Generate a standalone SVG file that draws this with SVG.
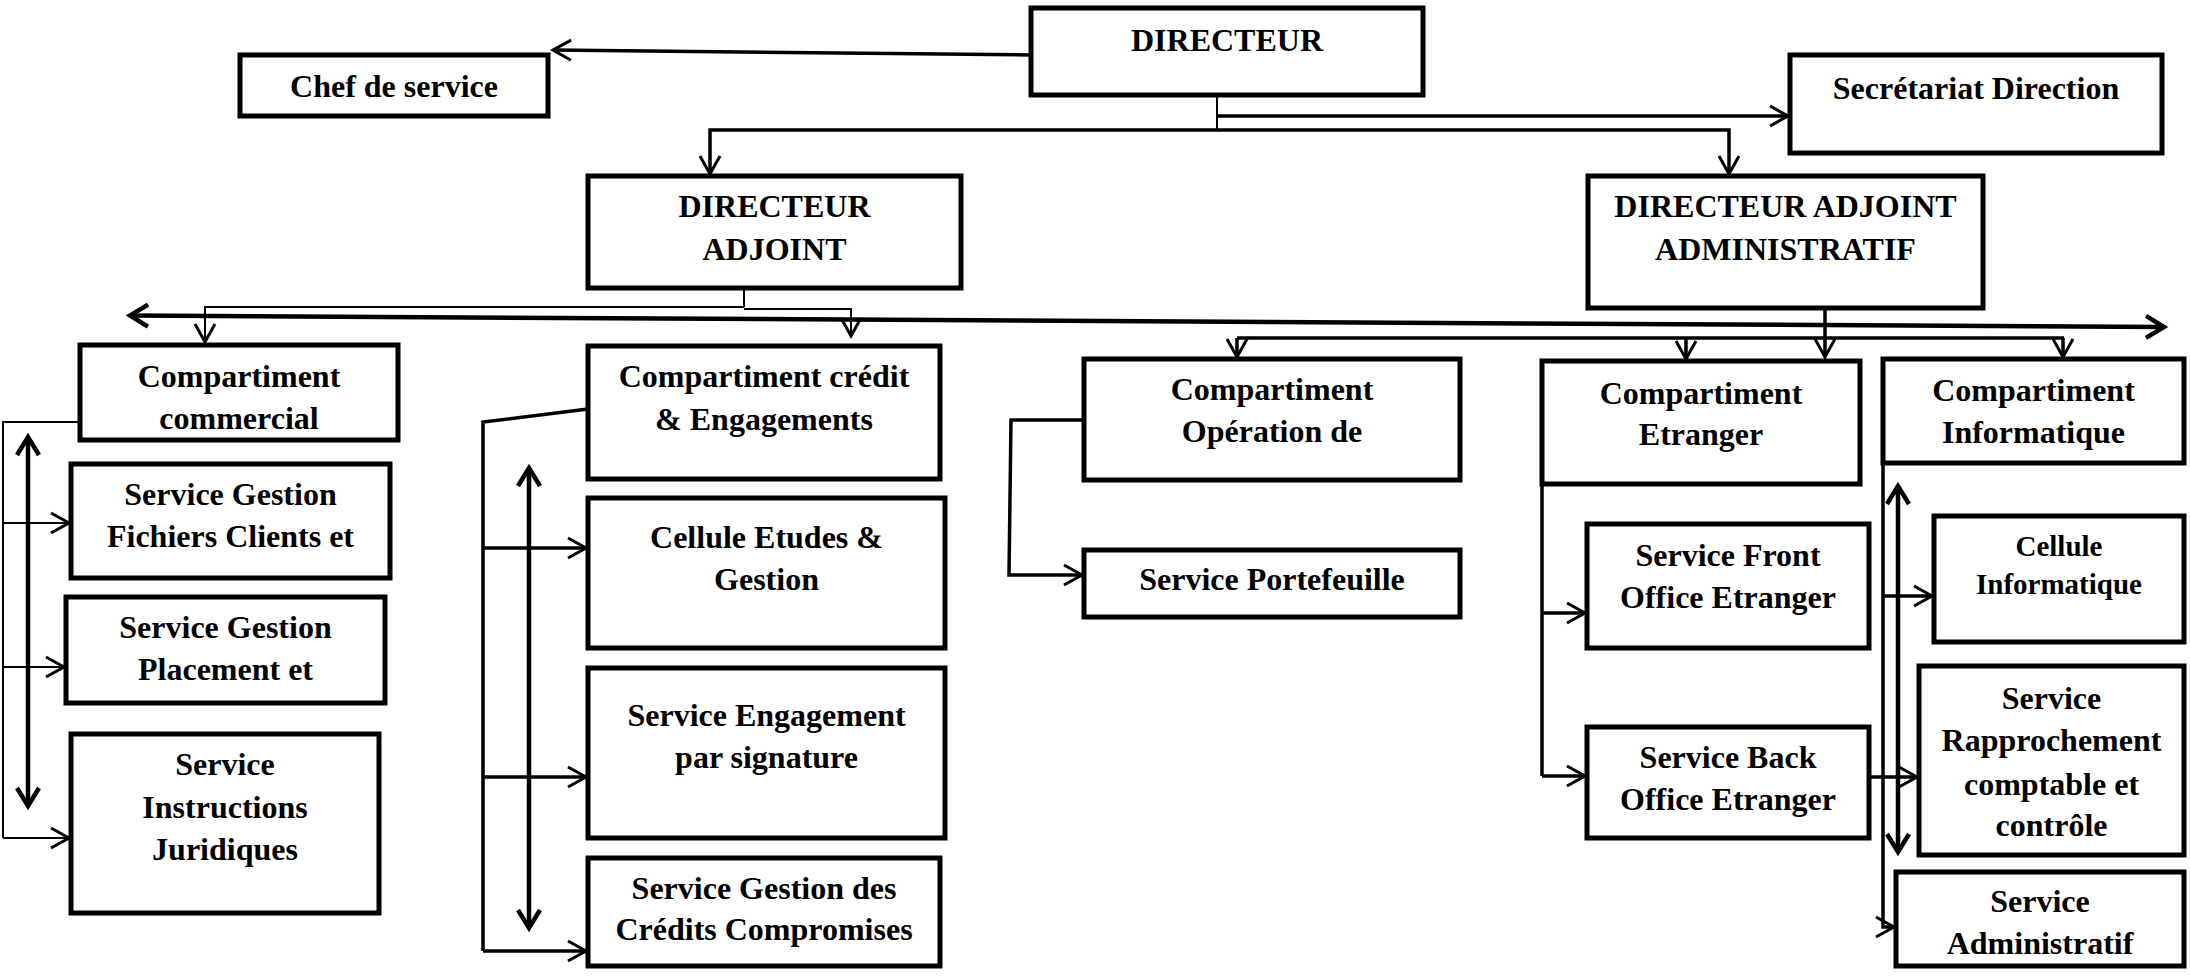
<svg xmlns="http://www.w3.org/2000/svg" width="2190" height="977" viewBox="0 0 2190 977">
<style>
.box{fill:#fff;stroke:#000;stroke-width:5}
.t{font-family:"Liberation Serif","Times New Roman",serif;font-weight:bold;font-size:32px;text-anchor:middle;fill:#000}
.s{font-size:29px}
.c{fill:none;stroke:#000;stroke-linejoin:miter}
.w1{stroke-width:2}
.w2{stroke-width:3.5}
.w3{stroke-width:4.5}
</style>
<defs>
<marker id="a" markerUnits="userSpaceOnUse" markerWidth="24" markerHeight="24" viewBox="0 0 24 24" refX="20" refY="12" orient="auto-start-reverse" overflow="visible">
<path d="M2,2 L20,12 L2,22" fill="none" stroke="#000" stroke-width="3"/>
</marker>
<marker id="b" markerUnits="userSpaceOnUse" markerWidth="24" markerHeight="24" viewBox="0 0 24 24" refX="20" refY="12" orient="auto-start-reverse" overflow="visible">
<path d="M2,1 L20,12 L2,23" fill="none" stroke="#000" stroke-width="4.5"/>
</marker>
<clipPath id="clipComm" clipPathUnits="userSpaceOnUse"><rect x="80" y="345" width="318" height="86"/></clipPath>
<clipPath id="clipAdm" clipPathUnits="userSpaceOnUse"><rect x="1896" y="872" width="288" height="84"/></clipPath>
</defs>

<g id="connectors">
<path class="c w2" d="M1031,55 L553,50" marker-end="url(#a)"/>
<path class="c w1" d="M1217,95 V130"/>
<path class="c w2" d="M1217,116 H1788" marker-end="url(#a)"/>
<path class="c w2" d="M710,174 V130 H1729 V174" marker-start="url(#a)" marker-end="url(#a)"/>
<path class="c w1" d="M744,289 V307"/>
<path class="c w1" d="M744,307 H205 V342" marker-end="url(#a)"/>
<path class="c w1" d="M744,309 H851 V336" marker-end="url(#a)"/>
<path class="c w3" d="M130,315.5 L2164,327" marker-start="url(#b)" marker-end="url(#b)"/>
<path class="c w2" d="M1825,308 V357" marker-end="url(#a)"/>
<path class="c w2" d="M1237,338 H2064"/>
<path class="c w2" d="M1237,338 V357" marker-end="url(#a)"/>
<path class="c w2" d="M1686,338 V359" marker-end="url(#a)"/>
<path class="c w2" d="M2063,338 V357" marker-end="url(#a)"/>
<path class="c w1" d="M80,422 H3 V838"/>
<path class="c w1" d="M3,523 H69" marker-end="url(#a)"/>
<path class="c w1" d="M3,667 H64" marker-end="url(#a)"/>
<path class="c w1" d="M3,838 H69" marker-end="url(#a)"/>
<path class="c w3" d="M28,437 V806" marker-start="url(#b)" marker-end="url(#b)"/>
<path class="c w2" d="M588,409 L483,422 V951"/>
<path class="c w2" d="M483,548 H586" marker-end="url(#a)"/>
<path class="c w2" d="M483,777 H586" marker-end="url(#a)"/>
<path class="c w2" d="M483,951 H586" marker-end="url(#a)"/>
<path class="c w3" d="M529,468 V928" marker-start="url(#b)" marker-end="url(#b)"/>
<path class="c w2" d="M1084,420 H1011 L1009,575 H1082" marker-end="url(#a)"/>
<path class="c w2" d="M1542,484 V776"/>
<path class="c w2" d="M1542,613 H1585" marker-end="url(#a)"/>
<path class="c w2" d="M1542,776 H1585" marker-end="url(#a)"/>
<path class="c w2" d="M1883,462 V927 H1894" marker-end="url(#a)"/>
<path class="c w2" d="M1883,596 H1932" marker-end="url(#a)"/>
<path class="c w2" d="M1869,777 H1917" marker-end="url(#a)"/>
<path class="c w3" d="M1898,486 V852" marker-start="url(#b)" marker-end="url(#b)"/>
</g>

<g id="n-directeur"><rect class="box" x="1031" y="8" width="392" height="87"/><text class="t" x="1227" y="51">DIRECTEUR</text></g>
<g id="n-chef"><rect class="box" x="240" y="55" width="308" height="61"/><text class="t" x="394" y="97">Chef de service</text></g>
<g id="n-secretariat"><rect class="box" x="1790" y="55" width="372" height="98"/><text class="t" x="1976" y="99">Secrétariat Direction</text></g>
<g id="n-da"><rect class="box" x="588" y="176" width="373" height="112"/><text class="t" x="774.5" y="217">DIRECTEUR</text><text class="t" x="774.5" y="260">ADJOINT</text></g>
<g id="n-daa"><rect class="box" x="1588" y="176" width="395" height="132"/><text class="t" x="1785.5" y="217">DIRECTEUR ADJOINT</text><text class="t" x="1785.5" y="260">ADMINISTRATIF</text></g>

<g id="n-commercial"><rect class="box" x="80" y="345" width="318" height="95"/><text class="t" x="239" y="387">Compartiment</text><text class="t" x="239" y="429" clip-path="url(#clipComm)">commercial</text></g>
<g id="n-fichiers"><rect class="box" x="71" y="464" width="319" height="114"/><text class="t" x="230.5" y="505">Service Gestion</text><text class="t" x="230.5" y="547">Fichiers Clients et</text></g>
<g id="n-placement"><rect class="box" x="66" y="597" width="319" height="106"/><text class="t" x="225.5" y="638">Service Gestion</text><text class="t" x="225.5" y="680">Placement et</text></g>
<g id="n-instructions"><rect class="box" x="71" y="734" width="308" height="179"/><text class="t" x="225" y="775">Service</text><text class="t" x="225" y="818">Instructions</text><text class="t" x="225" y="860">Juridiques</text></g>

<g id="n-credit"><rect class="box" x="588" y="346" width="352" height="133"/><text class="t" x="764" y="387">Compartiment crédit</text><text class="t" x="764" y="430">&amp; Engagements</text></g>
<g id="n-etudes"><rect class="box" x="588" y="498" width="357" height="150"/><text class="t" x="766.5" y="548">Cellule Etudes &amp;</text><text class="t" x="766.5" y="590">Gestion</text></g>
<g id="n-engagement"><rect class="box" x="588" y="668" width="357" height="170"/><text class="t" x="766.5" y="726">Service Engagement</text><text class="t" x="766.5" y="768">par signature</text></g>
<g id="n-compromises"><rect class="box" x="588" y="858" width="352" height="108"/><text class="t" x="764" y="899">Service Gestion des</text><text class="t" x="764" y="940">Crédits Compromises</text></g>

<g id="n-operation"><rect class="box" x="1084" y="359" width="376" height="121"/><text class="t" x="1272" y="400">Compartiment</text><text class="t" x="1272" y="442">Opération de</text></g>
<g id="n-portefeuille"><rect class="box" x="1084" y="550" width="376" height="67"/><text class="t" x="1272" y="590">Service Portefeuille</text></g>

<g id="n-etranger"><rect class="box" x="1542" y="361" width="318" height="123"/><text class="t" x="1701" y="404">Compartiment</text><text class="t" x="1701" y="445">Etranger</text></g>
<g id="n-front"><rect class="box" x="1587" y="524" width="282" height="124"/><text class="t" x="1728" y="566">Service Front</text><text class="t" x="1728" y="608">Office Etranger</text></g>
<g id="n-back"><rect class="box" x="1587" y="727" width="282" height="111"/><text class="t" x="1728" y="768">Service Back</text><text class="t" x="1728" y="810">Office Etranger</text></g>

<g id="n-informatique"><rect class="box" x="1883" y="359" width="301" height="104"/><text class="t" x="2033.5" y="401">Compartiment</text><text class="t" x="2033.5" y="443">Informatique</text></g>
<g id="n-cellule-info"><rect class="box" x="1934" y="516" width="250" height="126"/><text class="t s" x="2059" y="556">Cellule</text><text class="t s" x="2059" y="594">Informatique</text></g>
<g id="n-rapprochement"><rect class="box" x="1919" y="666" width="265" height="189"/><text class="t" x="2051.5" y="709">Service</text><text class="t" x="2051.5" y="751">Rapprochement</text><text class="t" x="2051.5" y="795">comptable et</text><text class="t" x="2051.5" y="836">contrôle</text></g>
<g id="n-administratif"><rect class="box" x="1896" y="872" width="288" height="94"/><text class="t" x="2040" y="912">Service</text><text class="t" x="2040" y="954" clip-path="url(#clipAdm)">Administratif</text></g>
</svg>
